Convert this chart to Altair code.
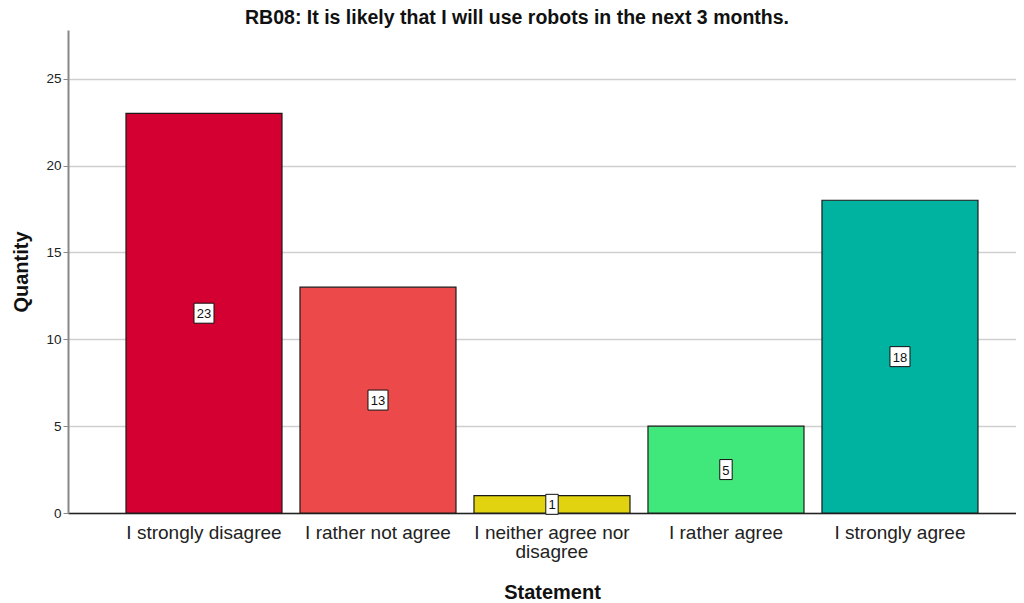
import altair as alt
import pandas as pd

categories = ["I strongly disagree", "I rather not agree", "I neither agree nor disagree",
              "I rather agree", "I strongly agree"]
counts = [23, 13, 1, 5, 18]
colors = ["#D50032", "#EC4A4A", "#E1D30F", "#40E87C", "#00B2A0"]
title_text = "RB08: It is likely that I will use robots in the next 3 months."

df = pd.DataFrame({"cat": categories, "n": counts})
df["mid"] = df["n"] / 2
df["lbl"] = df["n"].astype(str)
df["box"] = ["M-1,-1H1V1H-1Z" if len(s) > 1 else "M-0.62,-1H0.62V1H-0.62Z" for s in df["lbl"]]

xscale = alt.Scale(domain=categories, paddingInner=0.1034, paddingOuter=0.2759, align=0.604)
yscale = alt.Scale(domain=[0, 27.8], nice=False)

xenc = alt.X("cat:N", scale=xscale, sort=categories,
             axis=alt.Axis(title="Statement", labelAngle=0, labelFontSize=19, labelColor="#222",
                           labelFont="Liberation Sans", labelPadding=10, ticks=False,
                           domainColor="#222", domainWidth=1.5,
                           labelExpr="datum.label == 'I neither agree nor disagree' ? ['I neither agree nor', 'disagree'] : datum.label",
                           labelLineHeight=19,
                           titleFont="Liberation Sans", titleFontSize=20, titleFontWeight="bold",
                           titleColor="#111", titleX=484, titleY=85, titleBaseline="alphabetic",
                           titleAnchor="middle"))

bars = alt.Chart(df).mark_bar(stroke="#1a1a1a", strokeWidth=1.2).encode(
    x=xenc,
    y=alt.Y("n:Q", scale=yscale,
            axis=alt.Axis(title="Quantity", values=[0, 5, 10, 15, 20, 25], labelFontSize=13.5,
                          labelFont="Liberation Sans", labelColor="#222", tickSize=5,
                          tickColor="#888", domainColor="#888", domainWidth=2, labelPadding=2,
                          grid=True, gridColor="#cfcfcf", gridWidth=1.5,
                          titleFont="Liberation Sans", titleFontSize=20, titleFontWeight="bold",
                          titleColor="#111", titlePadding=14)),
    color=alt.Color("cat:N", scale=alt.Scale(domain=categories, range=colors), legend=None),
)

boxes = alt.Chart(df).mark_point(filled=True, fill="white", stroke="#111", strokeWidth=1,
                                 opacity=1, size=400).encode(
    x=alt.X("cat:N", scale=xscale, sort=categories),
    y=alt.Y("mid:Q", scale=yscale),
    shape=alt.Shape("box:N", scale=None, legend=None),
)

texts = alt.Chart(df).mark_text(font="Liberation Sans", fontSize=13, color="#111",
                                baseline="middle", align="center", dy=1).encode(
    x=alt.X("cat:N", scale=xscale, sort=categories),
    y=alt.Y("mid:Q", scale=yscale),
    text="lbl:N",
)

chart = alt.layer(bars, boxes, texts).properties(
    width=948, height=483,
    autosize=alt.AutoSizeParams(type="none"),
    padding={"left": 60, "top": 22, "right": 0, "bottom": 90},
    title=alt.TitleParams(title_text, font="Liberation Sans", fontSize=19.5, fontWeight="bold",
                          color="#111", anchor="middle", dx=-25, dy=19, offset=6,
                          baseline="alphabetic"),
).configure_view(stroke=None).configure_axis(grid=False)

chart = chart.configure_axisY(grid=True)

chart.save("out.html", embed_options={"renderer": "svg", "actions": False})
